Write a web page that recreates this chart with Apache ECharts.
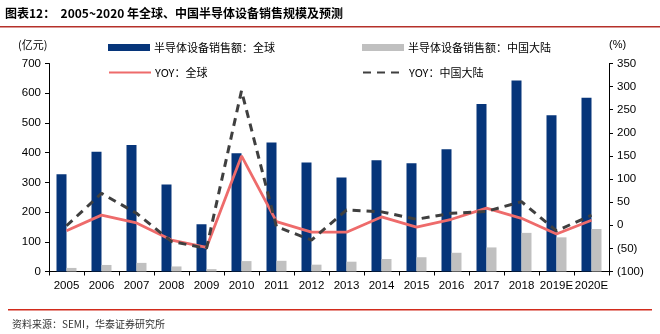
<!DOCTYPE html>
<html><head><meta charset="utf-8">
<script src="https://cdn.jsdelivr.net/npm/echarts@6/dist/echarts.min.js"></script>
<style>html,body{margin:0;padding:0;background:#fff}#c{width:660px;height:334px}</style>
</head><body><div id="c"></div>
<script>
const categories = ['2005','2006','2007','2008','2009','2010','2011','2012','2013','2014','2015','2016','2017','2018','2019E','2020E'];
const salesGlobal = [327,403,426,293,159,398,434,367,316,374,364,411,564,643,526,585];
const salesChina = [12,22,29,17,8,35,36,23,33,42,48,63,81,130,115,143];
const yoyGlobal = [-12,22,5,-32,-48,150,8,-15,-15,18,-4,13,37,15,-19,11];
const yoyChina = [-1,69,26,-35,-50,291,-3,-32,33,29,13,26,30,51,-12,22];
const leftTicks = {min:0, max:700, interval:100};
const rightTicks = {min:-100, max:350, interval:50};

const FONT = '"Liberation Sans", Arial, sans-serif';
const CJK = '"Noto Sans CJK SC", sans-serif';
const chart = echarts.init(document.getElementById('c'), null, {renderer:'canvas'});
const names = ['半导体设备销售额：全球','半导体设备销售额：中国大陆','YOY：全球','YOY：中国大陆'];
const legendPos = [[108,42],[362,42],[108,67],[362,67]];
const legends = names.map((n,i)=>{
  const l = {
    data:[i<2 ? {name:n, icon:'rect'} : {name:n}], left:legendPos[i][0], top:legendPos[i][1], padding:0,
    itemWidth:42, itemHeight:7, itemGap:4,
    textStyle:{fontSize:11, color:'#000', fontFamily:CJK, padding:[0,0,0,-1]}, selectedMode:false
  };
  if (i>=2) l.itemStyle = {opacity:0};
  return l;
});
chart.setOption({
  animation:false,
  backgroundColor:'#fff',
  legend: legends,
  grid:{left:49, right:51, top:63.5, bottom:62.5},
  xAxis:{type:'category', data:categories, boundaryGap:true,
    axisLine:{lineStyle:{color:'#000', width:1}},
    axisTick:{show:true, inside:false, length:4, lineStyle:{color:'#000'}},
    axisLabel:{color:'#000', fontSize:11.5, fontFamily:FONT, margin:8, interval:0}},
  yAxis:[
    {type:'value', min:leftTicks.min, max:leftTicks.max, interval:leftTicks.interval, position:'left',
     axisLine:{show:true, lineStyle:{color:'#000'}}, axisTick:{show:true, length:4, lineStyle:{color:'#000'}},
     splitLine:{show:false}, axisLabel:{color:'#000', fontSize:11.5, fontFamily:FONT, margin:8}},
    {type:'value', min:rightTicks.min, max:rightTicks.max, interval:rightTicks.interval, position:'right',
     axisLine:{show:true, lineStyle:{color:'#000'}}, axisTick:{show:true, length:4, lineStyle:{color:'#000'}},
     splitLine:{show:false}, axisLabel:{color:'#000', fontSize:11.5, fontFamily:FONT, margin:8,
       formatter:v=> v<0 ? '('+(-v)+')' : String(v)}}
  ],
  series:[
    {name:names[0], type:'bar', data:salesGlobal, barWidth:10, barGap:'0%', itemStyle:{color:'#06357A'}, yAxisIndex:0},
    {name:names[1], type:'bar', data:salesChina, barWidth:10, barGap:'0%', itemStyle:{color:'#C0C0C0'}, yAxisIndex:0},
    {name:names[2], type:'line', data:yoyGlobal, yAxisIndex:1, symbol:'none', lineStyle:{color:'#EE6B6B', width:2.8}, itemStyle:{color:'#EE6B6B'}},
    {name:names[3], type:'line', data:yoyChina, yAxisIndex:1, symbol:'none', lineStyle:{color:'#3F3F3F', width:3, type:[8,6]}, itemStyle:{color:'#3F3F3F'}}
  ],
  graphic:[
    {type:'text', left:5, top:7, style:{text:'图表12：  2005~2020 年全球、中国半导体设备销售规模及预测', font:'bold 12px '+CJK, fill:'#000'}},
    {type:'rect', shape:{x:0, y:26, width:660, height:1.5}, style:{fill:'#B5312A'}},
    {type:'text', left:18, top:39, style:{text:'(亿元)', font:'11px '+CJK, fill:'#000'}},
    {type:'text', left:609, top:39, style:{text:'(%)', font:'11px '+FONT, fill:'#000'}},
    {type:'rect', shape:{x:8, y:309, width:644, height:1.5}, style:{fill:'#D22B1C'}},
    {type:'text', left:12, top:319, style:{text:'资料来源：SEMI，华泰证券研究所', font:'10px '+CJK, fill:'#333'}}
  ]
});
</script></body></html>
